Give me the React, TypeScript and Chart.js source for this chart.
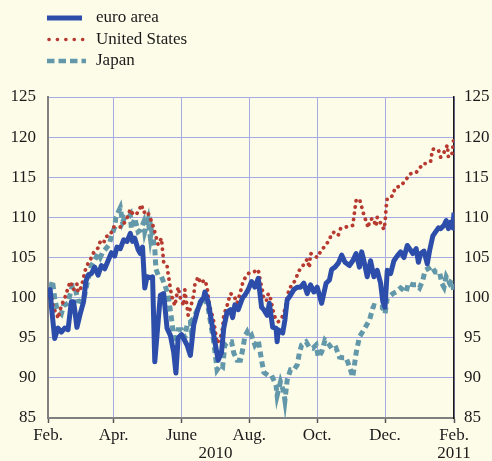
import React, { useEffect, useRef } from "react";
import { Chart, registerables } from "chart.js";

Chart.register(...registerables);

const FONT = "'Liberation Serif', 'Times New Roman', serif";
const BG = "#fdfce9";
const GRID = "#a6abe4";

// x positions are days since 1 Feb 2010
const xTickDays = [0, 59, 120, 150.5, 181, 242, 303, 365];
const xTickLabels = [["Feb."], ["Apr."], ["June"], ["", "2010"], ["Aug."], ["Oct."], ["Dec."], ["Feb.", "2011"]];

const seriesNames = ["euro area", "United States", "Japan"];

const euroDays = [0,2,3,6,9,12,15,18,21,23,24,26,29,32,34,36,39,42,45,48,51,54,57,60,62,65,68,71,74,76,78,81,83,85,87,89,92,94,96,99,101,104,107,110,113,115,117,120,125,128,131,134,137,140,141,144,147,150,153,156,158,161,164,166,168,171,175,177,180,183,186,189,192,194,197,199,202,205,206,207,211,213,215,218,221,224,227,230,233,236,239,242,246,250,253,255,258,261,264,267,271,274,277,280,282,284,287,290,293,296,299,301,303,305,308,311,314,317,320,323,325,328,331,333,335,338,341,343,346,348,351,353,356,358,360,362,364,365];
const euroValues = [100,101,99,94.9,96.2,95.7,96.2,96,99.5,99.5,98.5,96.3,98,99.5,102,102.8,103,103.8,102.8,104,103.6,104.6,105.6,105.2,106.3,106.1,107.2,107,108,107,107.4,106,105.5,106.3,101.2,102.6,102.5,102.6,92,97,100.3,100.5,96.2,95.3,93.2,90.6,95,95.4,94.1,92.8,96.6,98.2,99.5,100,100.7,99.5,97,94.5,92.2,93.2,96.2,98.2,98.5,97.5,99.1,98.5,100,100.3,101,102,101.3,102.4,98.8,98.5,97.8,99.3,96.3,96.2,94.5,96,95.6,97.2,99.7,100.3,101,101.3,101.3,101.8,100.5,101.6,100.7,101.3,99.3,101.8,102.2,103.5,103.8,104.3,105.3,104.4,104,104.6,105.5,103.8,105.7,104.6,102.6,104.6,102.6,103.4,101.8,99.5,98.8,103.4,103,104.6,105.2,105.7,105,106.5,106.1,105.5,106.1,104.4,105.5,105.8,104.2,105.8,107.7,108.1,108.7,108.6,109,109.6,108.6,109.4,108.7,110.6];

const usDays = [0,3,5,8,9,12,15,18,20,23,26,27,30,33,35,38,41,45,47,50,52,56,59,63,66,69,71,74,76,79,82,84,86,89,92,95,99,102,104,107,108,111,114,117,119,122,123,126,128,131,132,135,137,141,143,145,147,149,150,152,155,157,158,161,164,167,170,173,175,177,180,185,189,191,193,194,197,198,200,203,205,207,210,213,215,217,220,223,225,228,231,233,235,236,239,242,244,247,250,253,255,258,261,263,268,274,276,277,280,282,284,288,289,292,295,296,299,302,303,304,305,310,312,317,322,325,331,334,337,340,344,345,346,351,353,356,359,360,363,364,365];
const usValues = [100,100.2,98.6,98,97.4,99,99.9,101.2,102,101,101.7,100.7,101.3,103.2,104,104.7,105.6,106.2,107,106.8,107.6,107.8,108.8,108.8,108.8,109.4,109.9,111,110.5,110.3,110.9,111.6,110.6,110.8,109.9,108.7,106.6,107.4,104.4,104,103,100.3,99,101.3,100,99,101,97.8,98.7,100.3,101.6,102.6,101.8,102.2,101.3,99,98.2,97,96.2,94.3,95,96.2,97.8,99,100.5,100.3,99.3,100.7,101.8,102.4,103,103.2,103.5,102,100.7,99.7,99.7,100.5,99.9,98,97.2,97,97.4,98.5,100,101.2,101.6,102.4,103.2,103.8,104.3,104.8,103.7,105.5,105.3,105,105.5,106.1,106.6,107.2,108,108.2,107.8,108.6,108.8,109,111.1,112.1,112.3,111.3,110.3,108.7,109.6,109.9,108.9,110,109.3,108.5,109.4,111.3,112.4,112.7,113.7,113.9,114.7,115.4,115.6,116.1,116.7,116.7,117,117.9,118.5,118.4,117.5,118.1,119,117.5,117.8,118.8,120.3];

const japanDays = [0,3,4,6,8,12,14,18,20,22,24,27,30,32,33,35,37,39,42,45,47,49,52,55,57,60,61,65,67,69,72,74,75,78,81,83,86,87,90,92,93,96,97,99,102,105,108,111,113,115,117,120,123,125,128,129,132,135,138,141,144,146,149,151,152,155,157,159,162,165,167,170,173,175,177,179,181,183,186,189,192,194,198,201,205,206,209,212,213,215,218,221,224,226,228,232,235,238,241,243,246,249,253,256,259,262,265,268,271,274,277,280,284,289,292,293,298,301,303,305,310,313,317,322,324,328,331,334,337,339,343,345,348,352,354,356,358,361,363,365];
const japanValues = [100,101.5,102.1,100,98.6,98,99,99.3,100.5,101.5,101.5,99.6,99.5,100,100.3,101.7,102.8,104,104.7,105.5,105,105.6,106.1,106.6,107.7,108.8,110,111.2,109.4,110,109.9,110.3,108.6,109.9,108.2,108.4,109.4,108.2,109.7,107.5,108.4,106.2,103.6,102.8,102.6,101.6,100.3,97.4,95.1,93.7,96,96,95,96.6,97,95.7,97.8,98.7,99.5,100,98.7,97,94.5,92.2,91,91.6,91.4,94.1,94.5,94.5,93.1,92.2,92.2,93.5,95.2,95.7,95,95.3,94.1,94.7,92.2,90.7,90.3,90.3,89.1,87.8,89.5,88.2,87.2,89.7,91,91,91.6,93.1,94.1,94.5,93.8,93.7,94.1,92.6,93.2,94.7,94.1,93.5,93.7,92.6,92.5,92.5,91.4,90.1,93.1,95.1,96,97.2,98.7,99,98.8,98.8,98,99.9,100.5,100.7,101.2,100.7,101.8,101.6,101.6,101.2,102.2,103.4,103.7,103.9,103.2,103.2,101.8,101.3,102.6,101.8,102.2,100.7];

const EURO_COLOR = "#2c4eaa";
const US_COLOR = "#b73a30";
const JP_COLOR = "#6298a9";

function zip(days: number[], vals: number[]) {
  const n = Math.min(days.length, vals.length);
  const out: { x: number; y: number }[] = [];
  for (let i = 0; i < n; i++) out.push({ x: days[i], y: vals[i] });
  return out;
}

const bgPlugin = {
  id: "bg",
  beforeDraw(chart: any) {
    const ctx = chart.ctx;
    ctx.save();
    ctx.fillStyle = BG;
    ctx.fillRect(0, 0, chart.width, chart.height);
    ctx.restore();
  },
};

const legendPlugin = {
  id: "customLegend",
  afterDraw(chart: any) {
    const ctx = chart.ctx;
    const items = [
      { color: EURO_COLOR, dash: [] as number[], width: 5, cap: "butt" },
      { color: US_COLOR, dash: [0.1, 8.3], width: 3.6, cap: "round" },
      { color: JP_COLOR, dash: [7.5, 4], width: 4.5, cap: "butt" },
    ];
    ctx.save();
    items.forEach((it, i) => {
      const y = 18 + i * 21.5;
      ctx.beginPath();
      ctx.strokeStyle = it.color;
      ctx.lineWidth = it.width;
      ctx.lineCap = it.cap;
      ctx.setLineDash(it.dash);
      if (i === 1) {
        ctx.moveTo(49, y);
        ctx.lineTo(83, y);
      } else {
        ctx.moveTo(47, y);
        ctx.lineTo(i === 2 ? 86 : 82, y);
      }
      ctx.stroke();
      ctx.setLineDash([]);
      ctx.fillStyle = "#1a1a1a";
      ctx.font = `17px ${FONT}`;
      ctx.textBaseline = "middle";
      ctx.textAlign = "left";
      ctx.fillText(seriesNames[i], 96, y);
    });
    ctx.restore();
  },
};

export default function App() {
  const ref = useRef<HTMLCanvasElement>(null);
  useEffect(() => {
    const tickFont = { family: FONT, size: 17, lineHeight: 1.05 };
    const chart = new Chart(ref.current!, {
      type: "line",
      data: {
        datasets: [
          {
            label: seriesNames[0],
            data: zip(euroDays, euroValues),
            borderColor: EURO_COLOR,
            borderWidth: 5,
            borderJoinStyle: "round",
            pointRadius: 0,
            tension: 0,
          },
          {
            label: seriesNames[1],
            data: zip(usDays, usValues),
            borderColor: US_COLOR,
            borderWidth: 3.8,
            borderDash: [0.1, 6.2],
            borderCapStyle: "round",
            pointRadius: 0,
            tension: 0,
          },
          {
            label: seriesNames[2],
            data: zip(japanDays, japanValues),
            borderColor: JP_COLOR,
            borderWidth: 5,
            borderDash: [6, 4],
            pointRadius: 0,
            tension: 0,
          },
        ],
      },
      options: {
        animation: false,
        responsive: false,
        devicePixelRatio: 1,
        layout: { padding: { top: 97, left: 0, right: 0, bottom: 0 } },
        plugins: { legend: { display: false }, tooltip: { enabled: false } },
        scales: {
          x: {
            type: "linear",
            min: 0,
            max: 365,
            afterBuildTicks: (s: any) => {
              s.ticks = xTickDays.map((v) => ({ value: v }));
            },
            afterFit: (s: any) => {
              s.height = 43;
            },
            ticks: {
              autoSkip: false,
              maxRotation: 0,
              minRotation: 0,
              padding: 4,
              color: "#1a1a1a",
              font: tickFont,
              callback: (v: any) => {
                const i = xTickDays.indexOf(Number(v));
                return i >= 0 ? xTickLabels[i] : "";
              },
            },
            grid: {
              color: (c: any) => (c.tick && c.tick.value === 150.5 ? "rgba(0,0,0,0)" : GRID),
              tickColor: (c: any) => (c.tick && c.tick.value === 150.5 ? "rgba(0,0,0,0)" : "#555"),
              lineWidth: 1,
              drawTicks: true,
              tickLength: 5,
              tickWidth: 1.5,
            },
            border: { color: "#808080", width: 2 },
          },
          y: {
            position: "left",
            min: 85,
            max: 125,
            afterFit: (s: any) => {
              s.width = 48;
            },
            ticks: { stepSize: 5, padding: 12, color: "#1a1a1a", font: tickFont },
            grid: { color: GRID, lineWidth: 1, drawTicks: false },
            border: { color: "#808080", width: 2 },
          },
          y2: {
            position: "right",
            min: 85,
            max: 125,
            afterFit: (s: any) => {
              s.width = 38;
            },
            ticks: { stepSize: 5, padding: 10, color: "#1a1a1a", font: tickFont },
            grid: { display: false, drawTicks: false },
            border: { display: true, color: "#1a1a1a", width: 1.5 },
          },
        },
      },
      plugins: [bgPlugin, legendPlugin],
    } as any);
    return () => chart.destroy();
  }, []);
  return (
    <div style={{ position: "fixed", left: 0, top: 0, width: 492, height: 461, background: BG }}>
      <canvas ref={ref} width={492} height={461} style={{ display: "block", width: 492, height: 461 }} />
    </div>
  );
}
